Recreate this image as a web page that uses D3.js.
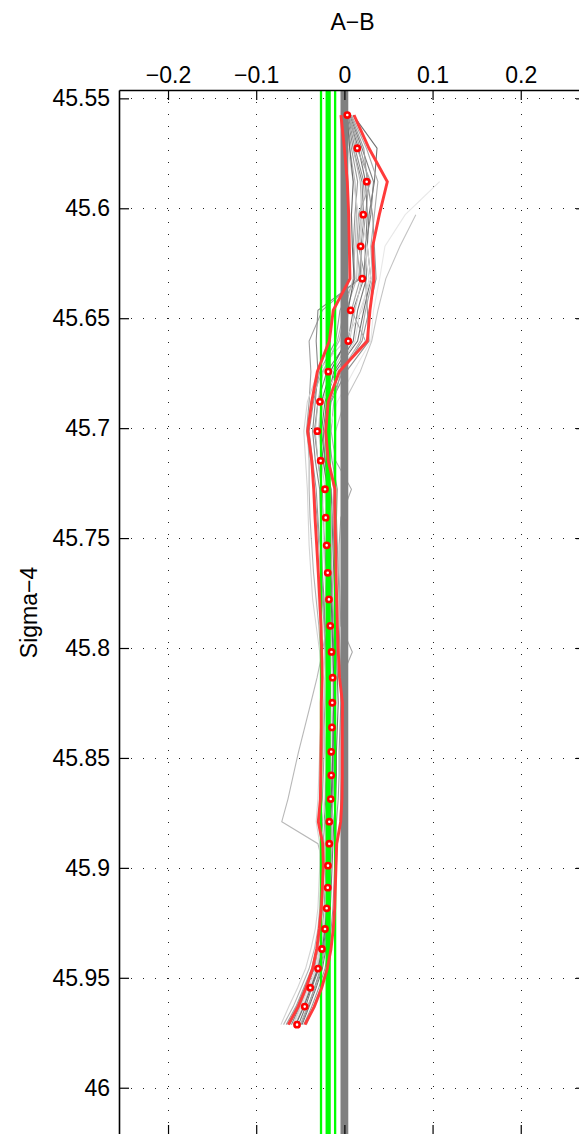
<!DOCTYPE html>
<html><head><meta charset="utf-8">
<script src="https://cdn.jsdelivr.net/npm/d3@7"></script>
<style>
body{margin:0;background:#fff}
svg{display:block}
text{font-family:"Liberation Sans",Arial,Helvetica,sans-serif;fill:#000}
</style>
</head><body>
<svg id="c" width="579" height="1134"></svg>
<script>
// ---------------- DATA ----------------
const sigmaLevels = [45.5576,45.5727,45.5879,45.6029,45.6173,45.6320,45.6464,45.6604,45.6743,45.6880,45.7014,45.7148,45.7278,45.7407,45.7533,45.7658,45.7779,45.7899,45.8018,45.8135,45.8249,45.8361,45.8472,45.8579,45.8687,45.8790,45.8890,45.8990,45.9090,45.9184,45.9278,45.9369,45.9458,45.9545,45.9631,45.9713];

const meanAB  = [0.0033,0.0146,0.0253,0.0214,0.0185,0.0203,0.0071,0.0044,-0.0183,-0.0277,-0.0307,-0.0269,-0.0220,-0.0212,-0.0201,-0.0189,-0.0175,-0.0160,-0.0146,-0.0133,-0.0137,-0.0141,-0.0149,-0.0149,-0.0155,-0.0171,-0.0171,-0.0186,-0.0189,-0.0201,-0.0220,-0.0254,-0.0299,-0.0387,-0.0450,-0.0537];
const lowerAB = [-0.0039,0.0000,0.0033,0.0049,0.0056,0.0063,-0.0126,-0.0171,-0.0307,-0.0370,-0.0416,-0.0370,-0.0348,-0.0333,-0.0314,-0.0296,-0.0280,-0.0265,-0.0257,-0.0252,-0.0262,-0.0262,-0.0265,-0.0268,-0.0272,-0.0296,-0.0246,-0.0239,-0.0250,-0.0262,-0.0285,-0.0314,-0.0360,-0.0435,-0.0523,-0.0636];
const upperAB = [0.0109,0.0279,0.0487,0.0396,0.0321,0.0336,0.0290,0.0260,-0.0058,-0.0183,-0.0212,-0.0183,-0.0107,-0.0107,-0.0099,-0.0095,-0.0087,-0.0080,-0.0069,-0.0055,-0.0022,-0.0024,-0.0024,-0.0024,-0.0027,-0.0042,-0.0087,-0.0095,-0.0103,-0.0110,-0.0126,-0.0152,-0.0194,-0.0257,-0.0341,-0.0447];

const profile01 = [0.010,0.037,0.034,0.028,0.026,0.030,0.022,0.015,-0.010,-0.022,-0.026,-0.022,-0.015,-0.014,-0.013,-0.012,-0.011,-0.010,-0.009,-0.008,-0.007,-0.008,-0.009,-0.009,-0.010,-0.012,-0.013,-0.014,-0.015,-0.016,-0.018,-0.021,-0.025,-0.032,-0.040,-0.048];
const profile02 = [0.006,0.020,0.033,0.030,0.024,0.022,0.010,0.004,-0.020,-0.030,-0.034,-0.030,-0.025,-0.024,-0.022,-0.021,-0.020,-0.018,-0.017,-0.016,-0.016,-0.017,-0.018,-0.018,-0.019,-0.021,-0.020,-0.021,-0.022,-0.023,-0.025,-0.029,-0.034,-0.043,-0.051,-0.060];
const profile03 = [0.004,0.012,0.022,0.018,0.016,0.024,0.026,0.028,0.002,-0.015,-0.020,-0.017,-0.012,-0.013,-0.012,-0.011,-0.010,-0.009,-0.009,-0.010,-0.010,-0.011,-0.012,-0.012,-0.013,-0.015,-0.015,-0.016,-0.017,-0.018,-0.020,-0.023,-0.027,-0.034,-0.041,-0.049];
const profile04 = [0.002,0.008,0.015,0.012,0.010,0.012,-0.005,-0.010,-0.028,-0.035,-0.040,-0.036,-0.032,-0.030,-0.028,-0.026,-0.024,-0.022,-0.021,-0.020,-0.020,-0.020,-0.021,-0.021,-0.022,-0.025,-0.023,-0.023,-0.024,-0.025,-0.027,-0.031,-0.036,-0.045,-0.054,-0.064];
const profile05 = [0.005,0.018,0.028,0.024,0.020,0.016,-0.025,-0.040,-0.038,-0.040,-0.043,-0.038,-0.034,-0.031,-0.029,-0.027,-0.025,-0.023,-0.022,-0.022,-0.022,-0.023,-0.023,-0.024,-0.025,-0.028,-0.024,-0.024,-0.025,-0.026,-0.028,-0.032,-0.037,-0.046,-0.055,-0.066];
const profile06 = [0.003,0.010,0.020,0.022,0.019,0.018,-0.030,-0.032,-0.030,-0.033,-0.036,-0.033,-0.028,-0.027,-0.026,-0.025,-0.023,-0.022,-0.020,-0.019,-0.018,-0.019,-0.020,-0.020,-0.021,-0.023,-0.022,-0.022,-0.023,-0.024,-0.026,-0.030,-0.035,-0.044,-0.052,-0.062];
const profile07 = [0.008,0.025,0.038,0.034,0.030,0.032,0.024,0.018,-0.004,-0.012,-0.015,-0.010,0.008,-0.004,-0.006,-0.006,-0.005,-0.004,0.009,-0.003,-0.002,-0.002,-0.003,-0.003,-0.004,-0.005,-0.008,-0.009,-0.010,-0.011,-0.013,-0.016,-0.020,-0.027,-0.035,-0.043];
const profile08 = [null,0.010,0.018,0.020,0.015,0.014,0.002,-0.006,-0.025,-0.038,-0.042,-0.040,-0.040,-0.039,-0.037,-0.035,-0.032,-0.029,-0.027,-0.025,-0.024,-0.024,-0.025,-0.026,-0.027,-0.029,-0.026,-0.026,-0.027,-0.028,-0.030,-0.034,-0.040,-0.049,-0.058,-0.069];
const profile09 = [null,null,0.024,0.020,0.018,0.020,0.012,0.006,-0.014,-0.024,-0.028,-0.026,-0.022,-0.020,-0.019,-0.018,-0.016,-0.015,-0.014,-0.013,-0.013,-0.014,-0.014,-0.015,-0.016,-0.018,-0.018,-0.019,-0.020,-0.021,-0.023,-0.027,-0.031,-0.039,-0.047,-0.056];
const profile10 = [null,null,0.108,0.069,0.046,0.040,0.033,0.030,0.010,-0.008,-0.018,-0.020,-0.022,-0.025,-0.028,-0.030,-0.030,-0.027,-0.025,-0.022,-0.020,-0.020,-0.021,-0.022,-0.023,-0.024,-0.022,-0.022,-0.023,-0.024,-0.026,-0.029,-0.033,-0.040,null,null];
const profile11 = [null,null,null,0.081,0.063,0.047,0.038,0.031,0.018,0.000,-0.010,-0.012,-0.012,-0.015,-0.016,-0.017,-0.016,-0.015,-0.014,-0.013,-0.012,-0.012,-0.013,-0.014,-0.015,-0.017,-0.017,-0.018,-0.019,-0.020,-0.022,-0.026,-0.030,-0.038,null,null];
const profile12 = [0.004,0.016,0.024,0.026,0.024,0.025,0.015,0.010,-0.012,-0.020,-0.024,-0.022,-0.018,-0.017,-0.016,-0.015,-0.014,-0.013,-0.012,-0.011,-0.011,-0.012,-0.013,-0.013,-0.014,-0.016,-0.016,-0.017,-0.018,-0.019,-0.021,-0.024,-0.029,-0.037,-0.044,-0.052];
const profile13 = [0.002,0.006,0.012,0.014,0.012,0.010,0.000,-0.008,-0.024,-0.030,-0.033,-0.030,-0.026,-0.024,-0.023,-0.022,-0.021,-0.020,-0.025,-0.031,-0.038,-0.045,-0.052,-0.058,-0.064,-0.071,-0.030,-0.024,-0.024,-0.025,-0.027,-0.030,-0.035,-0.042,-0.050,-0.058];
const profile14 = [null,0.004,0.010,0.016,0.022,0.028,0.020,0.000,-0.030,-0.042,-0.046,-0.044,-0.042,-0.041,-0.040,-0.038,-0.036,-0.032,-0.028,-0.026,-0.026,-0.027,-0.028,-0.029,-0.030,-0.032,-0.028,-0.028,-0.029,-0.030,-0.033,-0.038,-0.044,-0.053,-0.063,-0.072];
const profile15 = [0.007,0.022,0.026,0.032,0.034,0.036,0.028,0.020,-0.002,-0.016,-0.018,-0.014,-0.008,-0.009,-0.008,-0.007,-0.006,-0.006,-0.005,-0.004,-0.004,-0.005,-0.006,-0.006,-0.007,-0.009,-0.010,-0.011,-0.012,-0.013,-0.015,-0.018,-0.022,-0.029,-0.037,-0.046];
const profile16 = [null,null,0.020,0.018,0.026,0.030,0.018,0.012,-0.008,-0.026,-0.030,-0.024,-0.020,-0.022,-0.024,-0.022,-0.019,-0.017,-0.015,-0.014,-0.014,-0.015,-0.016,-0.016,-0.017,-0.019,-0.019,-0.020,-0.021,-0.022,-0.024,-0.028,-0.032,-0.041,-0.049,-0.058];
const profile17 = [0.003,0.006,0.010,0.008,0.009,0.011,0.004,0.002,-0.016,-0.026,-0.028,-0.024,-0.019,-0.018,-0.017,-0.016,-0.015,-0.014,-0.013,-0.012,-0.012,-0.013,-0.013,-0.014,-0.015,-0.017,-0.017,-0.018,-0.019,-0.020,-0.022,-0.025,-0.030,-0.038,-0.046,-0.055];
const profile18 = [0.005,0.014,0.030,0.016,0.014,0.018,0.008,0.024,-0.006,-0.018,-0.022,-0.020,-0.016,-0.015,-0.015,-0.014,-0.013,-0.012,-0.011,-0.010,-0.010,-0.011,-0.011,-0.012,-0.013,-0.014,-0.014,-0.015,-0.016,-0.017,-0.019,-0.022,-0.026,-0.033,-0.042,-0.050];

const profiles = [profile01,profile02,profile03,profile04,profile05,profile06,profile07,profile08,profile09,profile10,profile11,profile12,profile13,profile14,profile15,profile16,profile17,profile18];

const greenRefValues = [-0.0265, -0.0184, -0.0105];
const zeroRefValue = 0;

const xTicks = [-0.2, -0.1, 0, 0.1, 0.2];
const xTickLabels = ["\u22120.2", "\u22120.1", "0", "0.1", "0.2"];
const yTicks = [45.55, 45.6, 45.65, 45.7, 45.75, 45.8, 45.85, 45.9, 45.95, 46];
const yTickLabels = ["45.55","45.6","45.65","45.7","45.75","45.8","45.85","45.9","45.95","46"];
const xTitle = "A\u2212B";
const yTitle = "Sigma\u22124";

// ---------------- STYLE ----------------
const profileShades = ["#707070","#808080","#909090","#999999","#a0a0a0","#888888","#aaaaaa","#b4b4b4","#c8c8c8","#e8e8e8","#c4c4c4","#787878","#b8b8b8","#d4d4d4","#989898","#d8d8d8","#686868","#a8a8a8"];
const greenWidths = [2.3, 5.2, 2.3];

// ---------------- DRAW ----------------
const L = 119, R = 586, T = 90, B = 1135;
const x = d3.scaleLinear().domain([-0.2556, 0.274]).range([L, R]);
const y = d3.scaleLinear().domain([45.5462, 46.0215]).range([T, B]);

const svg = d3.select("#c");
svg.append("defs").append("clipPath").attr("id","clip")
  .append("rect").attr("x",L).attr("y",T).attr("width",R-L).attr("height",B-T);

const plot = svg.append("g").attr("clip-path","url(#clip)");

// grid (dotted)
const grid = plot.append("g").attr("stroke","#222").attr("stroke-width",1)
  .attr("stroke-dasharray","1 11").attr("shape-rendering","crispEdges");
grid.selectAll("line.v").data(xTicks).join("line").attr("class","v")
  .attr("x1",d=>Math.round(x(d))+0.5).attr("x2",d=>Math.round(x(d))+0.5)
  .attr("y1",T).attr("y2",B);
grid.selectAll("line.h").data(yTicks).join("line").attr("class","h")
  .attr("y1",d=>Math.round(y(d))+0.5).attr("y2",d=>Math.round(y(d))+0.5)
  .attr("x1",L).attr("x2",R);

// gray profiles
const line = d3.line()
  .defined(d => d[1] !== null)
  .x(d => x(d[1])).y(d => y(d[0]));
plot.append("g").selectAll("path").data(profiles).join("path")
  .attr("fill","none")
  .attr("stroke",(d,i)=>profileShades[i])
  .attr("stroke-width",1.1)
  .attr("d", p => line(p.map((v,i)=>[sigmaLevels[i], v])));

// green reference lines
plot.append("g").selectAll("line").data(greenRefValues).join("line")
  .attr("x1",d=>x(d)).attr("x2",d=>x(d)).attr("y1",T).attr("y2",B)
  .attr("stroke","#00ff00").attr("stroke-width",(d,i)=>greenWidths[i]);

// gray zero bar
plot.append("line").attr("x1",x(zeroRefValue)).attr("x2",x(zeroRefValue))
  .attr("y1",T).attr("y2",B).attr("stroke","#808080").attr("stroke-width",7.8);

// red envelope
[lowerAB, upperAB].forEach(arr => {
  plot.append("path").attr("fill","none").attr("stroke","#ff3b3b")
    .attr("stroke-width",2.9).attr("stroke-linejoin","miter")
    .attr("d", line(arr.map((v,i)=>[sigmaLevels[i], v])));
});

// red circles
plot.append("g").selectAll("circle").data(meanAB).join("circle")
  .attr("cx",d=>x(d)).attr("cy",(d,i)=>y(sigmaLevels[i]))
  .attr("r",2.6).attr("fill","#fff").attr("stroke","#ff0000").attr("stroke-width",2.6);

// axes
const fs = "23px";
const axL = d3.axisLeft(y).tickValues(yTicks).tickFormat((d,i)=>yTickLabels[i]).tickSizeInner(-10).tickSizeOuter(0).tickPadding(9);
const axT = d3.axisTop(x).tickValues(xTicks).tickFormat((d,i)=>xTickLabels[i]).tickSizeInner(-10).tickSizeOuter(0).tickPadding(7);
const axR = d3.axisRight(y).tickValues(yTicks).tickFormat("").tickSizeInner(-10).tickSizeOuter(0);
const axB = d3.axisBottom(x).tickValues(xTicks).tickFormat("").tickSizeInner(-10).tickSizeOuter(0);

function styleAxis(g){
  g.selectAll("path").attr("stroke","#000").attr("stroke-width",1.6);
  g.selectAll("line").attr("stroke","#000").attr("stroke-width",1.2);
  g.selectAll("text").attr("font-size",fs).attr("font-family","'Liberation Sans',Arial,sans-serif").attr("fill","#000");
}
svg.append("g").attr("transform",`translate(${L},0)`).call(axL).call(styleAxis);
svg.append("g").attr("transform",`translate(0,${T})`).call(axT).call(styleAxis);
svg.append("g").attr("transform",`translate(${R},0)`).call(axR).call(styleAxis);
svg.append("g").attr("transform",`translate(0,${B})`).call(axB).call(styleAxis);

// titles
svg.append("text").attr("x",(L+R)/2).attr("y",30).attr("text-anchor","middle")
  .attr("font-size",fs).text(xTitle);
svg.append("text").attr("transform",`translate(37,${(T+B)/2}) rotate(-90)`)
  .attr("text-anchor","middle").attr("font-size",fs).text(yTitle);
</script>
</body></html>
